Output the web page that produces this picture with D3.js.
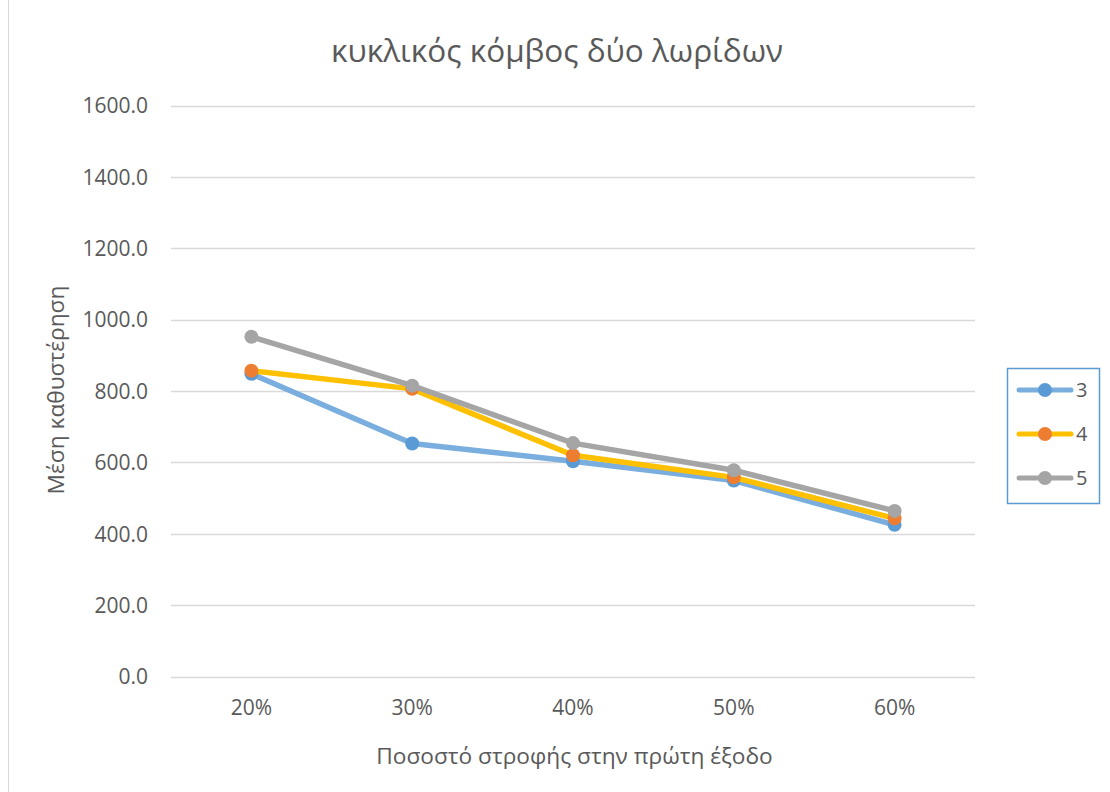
<!DOCTYPE html>
<html><head><meta charset="utf-8">
<script src="https://cdn.jsdelivr.net/npm/d3@7"></script>
<style>body{margin:0;background:#fff}svg{display:block}text{font-family:"Open Sans",sans-serif;fill:#595959}</style>
</head><body><svg id="c" width="1110" height="792"></svg>
<script>
const categories = ["20%","30%","40%","50%","60%"];
const seriesNames = ["3","4","5"];
const s3 = [848, 653, 603, 549, 425];
const s4 = [857, 806, 620, 558, 443];
const s5 = [952, 815, 654, 578, 464];
const yTicks = [0,200,400,600,800,1000,1200,1400,1600];
const title = "κυκλικός κόμβος δύο λωρίδων";
const xTitle = "Ποσοστό στροφής στην πρώτη έξοδο";
const yTitle = "Μέση καθυστέρηση";
const lineColors = ["#7AAEDE","#FFC000","#A5A5A5"];
const markerColors = ["#5B9BD5","#ED7D31","#A5A5A5"];

const svg = d3.select("#c");
svg.append("rect").attr("x",8.5).attr("y",-2).attr("width",1110).attr("height",800).attr("fill","none").attr("stroke","#D9D9D9");

const x = d3.scaleBand().domain(categories).range([171,975]);
const y = d3.scaleLinear().domain([0,1600]).range([676.5,105.5]);

const g = svg.append("g");
g.selectAll("line.grid").data(yTicks).join("line")
 .attr("x1",171).attr("x2",975).attr("y1",d=>Math.round(y(d))+0.5).attr("y2",d=>Math.round(y(d))+0.5)
 .attr("stroke","#D9D9D9").attr("stroke-width",1.5);

const yAxis = d3.axisLeft(y).tickValues(yTicks).tickFormat(d=>d3.format(".1f")(d)).tickSize(0).tickPadding(23);
const ya = svg.append("g").attr("transform","translate(171,0)").call(yAxis);
ya.select(".domain").remove();
ya.selectAll("text").style("font-size","21px").style("font-family","'Open Sans',sans-serif").attr("fill","#595959").attr("dy","0.35em");

const xAxis = d3.axisBottom(x).tickSize(0).tickPadding(24);
const xa = svg.append("g").attr("transform","translate(0,676.5)").call(xAxis);
xa.select(".domain").remove();
xa.selectAll("text").style("font-size","21px").style("font-family","'Open Sans',sans-serif").attr("fill","#595959");

svg.append("text").attr("x",557).attr("y",62).attr("text-anchor","middle").style("font-size","31.5px").text(title);
svg.append("text").attr("x",574.5).attr("y",764).attr("text-anchor","middle").style("font-size","22.7px").text(xTitle);
svg.append("text").attr("transform","translate(64,390) rotate(-90)").attr("text-anchor","middle").style("font-size","22.7px").text(yTitle);

const data = [s3,s4,s5];
const line = d3.line().x((d,i)=>x(categories[i])+x.bandwidth()/2).y(d=>y(d));
data.forEach((vals,k)=>{
  svg.append("path").datum(vals).attr("d",line).attr("fill","none").attr("stroke",lineColors[k]).attr("stroke-width",5.5).attr("stroke-linejoin","round").attr("stroke-linecap","round");
  svg.selectAll(null).data(vals).join("circle")
   .attr("cx",(d,i)=>x(categories[i])+x.bandwidth()/2).attr("cy",d=>y(d)).attr("r",7).attr("fill",markerColors[k]);
});

// legend
const lg = svg.append("g");
lg.append("rect").attr("x",1007.5).attr("y",368.5).attr("width",92).attr("height",135).attr("fill","#fff").attr("stroke","#5B9BD5").attr("stroke-width",1.5);
seriesNames.forEach((n,k)=>{
  const yy = 390 + k*44;
  lg.append("line").attr("x1",1019).attr("x2",1071).attr("y1",yy).attr("y2",yy).attr("stroke",lineColors[k]).attr("stroke-width",5).attr("stroke-linecap","round");
  lg.append("circle").attr("cx",1045).attr("cy",yy).attr("r",7).attr("fill",markerColors[k]);
  lg.append("text").attr("x",1076).attr("y",yy).attr("dy","0.35em").style("font-size","20px").text(n);
});
</script></body></html>
